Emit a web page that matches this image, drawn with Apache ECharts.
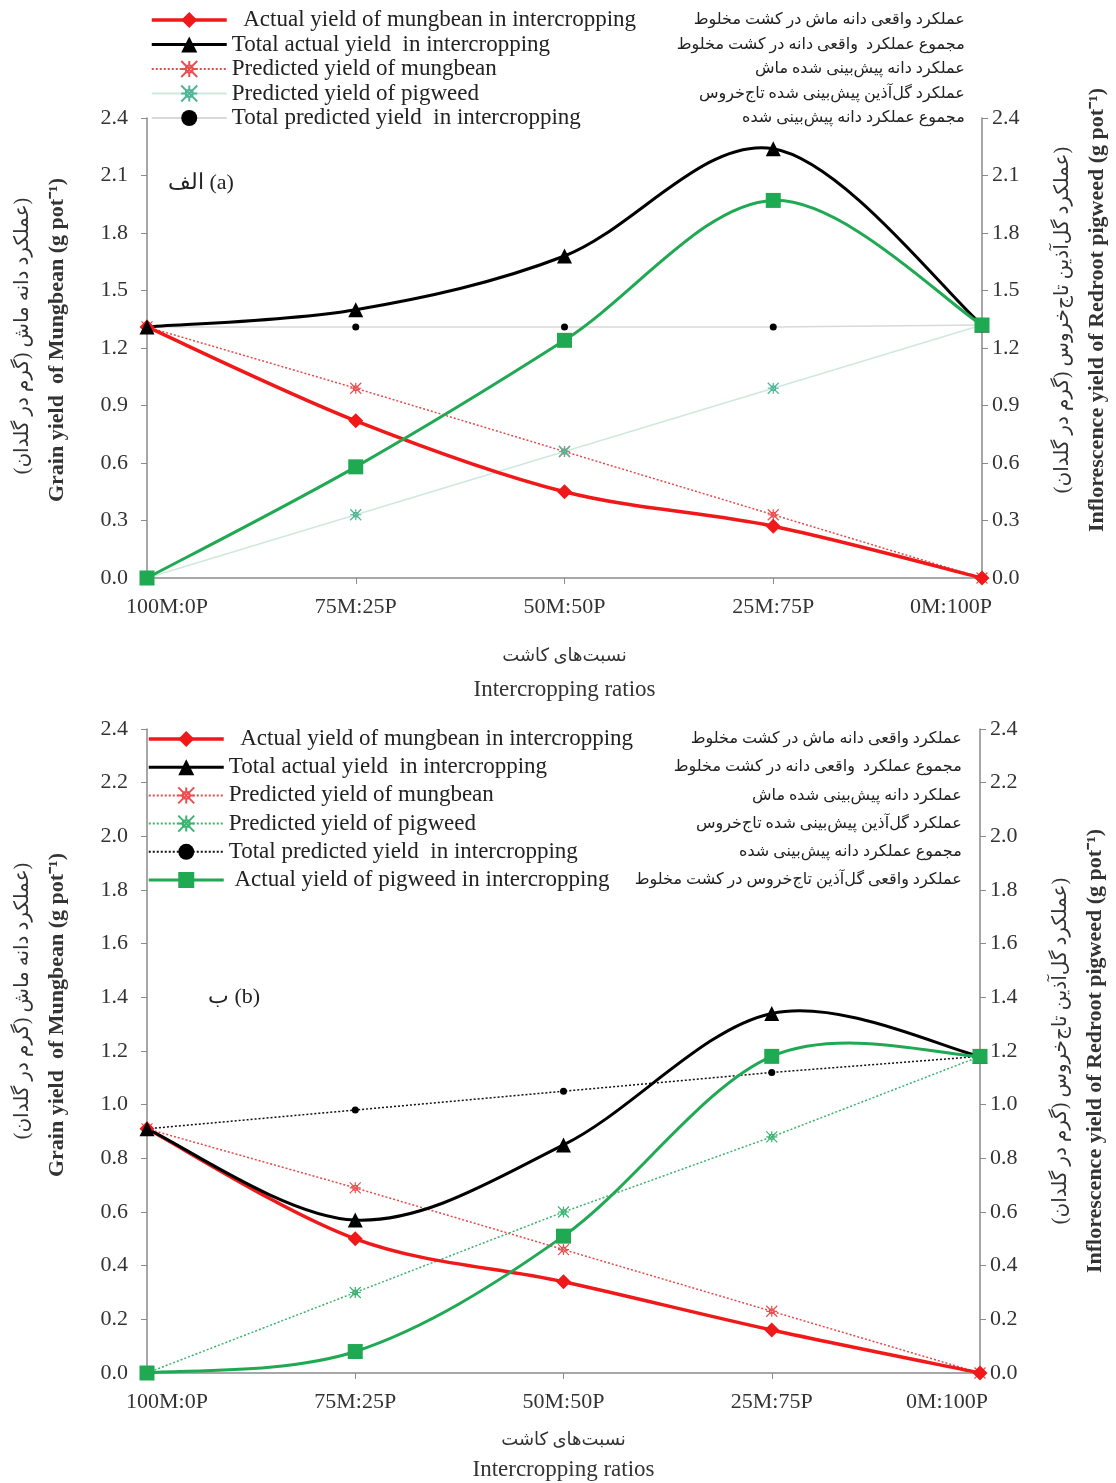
<!DOCTYPE html>
<html><head><meta charset="utf-8">
<script src="https://cdn.jsdelivr.net/npm/echarts@6/dist/echarts.min.js"></script>
<style>html,body{margin:0;padding:0;background:#fff}#c{width:1116px;height:1483px}</style>
</head><body><div id="c"></div>
<script>
// ---------- data ----------
const categories = ['100M:0P', '75M:25P', '50M:50P', '25M:75P', '0M:100P'];

// panel (a)
const topActualMung  = [1.31, 0.82, 0.45, 0.27, 0.00];
const topTotalActual = [1.31, 1.40, 1.68, 2.24, 1.32];
const topPredMung    = [1.31, 0.99, 0.66, 0.33, 0.00];
const topPredPig     = [0.00, 0.33, 0.66, 0.99, 1.32];
const topTotalPred   = [1.31, 1.31, 1.31, 1.31, 1.32];
const topActualPig   = [0.00, 0.58, 1.24, 1.97, 1.32];

// panel (b)
const botActualMung  = [0.91, 0.50, 0.34, 0.16, 0.00];
const botTotalActual = [0.91, 0.57, 0.85, 1.34, 1.18];
const botPredMung    = [0.91, 0.69, 0.46, 0.23, 0.00];
const botPredPig     = [0.00, 0.30, 0.60, 0.88, 1.18];
const botTotalPred   = [0.91, 0.98, 1.05, 1.12, 1.18];
const botActualPig   = [0.00, 0.08, 0.51, 1.18, 1.18];

// axis ticks
const yMin = 0, yMax = 2.4;
const topTickStep = 0.3;
const botTickStep = 0.2;

// texts
const legendEn = [
  '  Actual yield of mungbean in intercropping',
  'Total actual yield  in intercropping',
  'Predicted yield of mungbean',
  'Predicted yield of pigweed',
  'Total predicted yield  in intercropping',
  ' Actual yield of pigweed in intercropping'
];
const legendFa = [
  'عملکرد واقعی دانه ماش در کشت مخلوط',
  'مجموع عملکرد  واقعی دانه در کشت مخلوط',
  'عملکرد دانه پیش‌بینی شده ماش',
  'عملکرد گل‌آذین پیش‌بینی شده تاج‌خروس',
  'مجموع عملکرد دانه پیش‌بینی شده',
  'عملکرد واقعی گل‌آذین تاج‌خروس در کشت مخلوط'
];
const xNameFa = 'نسبت‌های کاشت';
const xNameEn = 'Intercropping ratios';
const yLeftFa = '\u200F(عملکرد دانه ماش (گرم در گلدان\u200F)';
const yLeftEn = 'Grain yield  of Mungbean (g pot⁻¹)';
const yRightFa = '\u200F(عملکرد گل‌آذین تاج‌خروس (گرم در گلدان\u200F)';
const yRightEn = 'Inflorescence yield of Redroot pigweed (g pot⁻¹)';
const panelA = 'الف (a)';
const panelB = 'ب (b)';

// ---------- styles ----------
const SERIF = "'Liberation Serif', 'Times New Roman', serif";
const FA = "'Liberation Serif', 'DejaVu Sans', serif";
const RED = '#f01818', BLACK = '#000', GREEN = '#1fa952';
const AXC = '#8a8a8a';
const starPath = 'path://M0,0 L10,10 M10,0 L0,10 M3,3 L7,3 L7,7 L3,7 Z M5,0 L5,3 M5,7 L5,10 M0,5 L3,5 M7,5 L10,5';

function yax(gridIndex, step, pos, shiftFa, shiftEn) {
  const left = pos === 'left';
  return {
    type: 'value', gridIndex: gridIndex, position: pos,
    min: yMin, max: yMax, interval: step,
    axisLine: {show: true, lineStyle: {color: AXC, width: 1.5}},
    axisTick: {show: true, inside: false, length: 6, lineStyle: {color: AXC}},
    splitLine: {show: false},
    axisLabel: {fontFamily: SERIF, fontSize: 22, color: '#333', margin: left ? 19 : 10,
      formatter: v => v.toFixed(1)},
    nameLocation: 'middle', nameRotate: 90,
    nameGap: left ? 73 : 64,
    name: left
      ? '{fa|' + yLeftFa + '}\n{en|' + yLeftEn + '}'
      : '{fa|' + yRightFa + '}\n{en|' + yRightEn + '}',
    nameTextStyle: {
      rich: {
        fa: {fontFamily: FA, fontSize: 20, color: '#333', lineHeight: 34, padding: [0, 0, 0, shiftFa]},
        en: {fontFamily: SERIF, fontSize: 22, fontWeight: 'bold', color: '#333', lineHeight: 34, padding: [0, 0, 0, shiftEn]}
      }
    }
  };
}
function xax(gridIndex, nameGap, nameLH, lastPad) {
  return {
    type: 'category', gridIndex: gridIndex, data: categories, boundaryGap: false,
    axisLine: {show: true, lineStyle: {color: AXC, width: 1.5}},
    axisTick: {show: true, inside: false, length: 6, alignWithLabel: true, lineStyle: {color: AXC}},
    axisLabel: {fontFamily: SERIF, fontSize: 22, color: '#333', margin: 18,
      formatter: (v, i) => i === 0 ? '{first|' + v + '}' : (i === categories.length - 1 ? '{last|' + v + '}' : v),
      rich: {
        first: {fontFamily: SERIF, fontSize: 22, color: '#333', padding: [0, 0, 0, 40]},
        last: {fontFamily: SERIF, fontSize: 22, color: '#333', padding: [0, lastPad, 0, 0]}
      }
    },
    splitLine: {show: false},
    nameLocation: 'middle', nameGap: nameGap,
    name: '{fa|' + xNameFa + '}\n{en|' + xNameEn + '}',
    nameTextStyle: {
      rich: {
        fa: {fontFamily: FA, fontSize: 18, color: '#333', lineHeight: nameLH},
        en: {fontFamily: SERIF, fontSize: 23, color: '#333', lineHeight: nameLH}
      }
    }
  };
}

// smooth curve (Catmull-Rom through the data points, via the axis scales)
function smoothCurve(arr, g, yIdx, color, width) {
  return {
    type: 'custom', coordinateSystem: 'cartesian2d',
    xAxisIndex: g, yAxisIndex: yIdx, z: 3, silent: true,
    data: arr.map((v, i) => [i, v]),
    encode: {x: 0, y: 1},
    renderItem: function (params, api) {
      const i = params.dataIndex, n = arr.length;
      if (i >= n - 1) return null;
      const P = k => api.coord([Math.max(0, Math.min(n - 1, k)), arr[Math.max(0, Math.min(n - 1, k))]]);
      const p0 = P(i - 1), p1 = P(i), p2 = P(i + 1), p3 = P(i + 2);
      return {
        type: 'bezierCurve',
        shape: {
          x1: p1[0], y1: p1[1], x2: p2[0], y2: p2[1],
          cpx1: p1[0] + (p2[0] - p0[0]) / 6, cpy1: p1[1] + (p2[1] - p0[1]) / 6,
          cpx2: p2[0] - (p3[0] - p1[0]) / 6, cpy2: p2[1] - (p3[1] - p1[1]) / 6
        },
        style: {stroke: color, lineWidth: width, fill: null, lineCap: 'round'}
      };
    }
  };
}

function mkSeries(prefix, g, arrs, topPanel) {
  const yl = g * 2, yr = g * 2 + 1;
  const s = [];
  s.push({name: prefix + '0', type: 'line', xAxisIndex: g, yAxisIndex: yl, data: arrs[0],
    symbol: 'diamond', symbolSize: 15,
    lineStyle: {color: RED, width: 3.5, opacity: 0}, itemStyle: {color: RED}, z: 6});
  s.push(smoothCurve(arrs[0], g, yl, RED, 3.5));
  s.push({name: prefix + '1', type: 'line', xAxisIndex: g, yAxisIndex: yl, data: arrs[1],
    symbol: 'triangle', symbolSize: 15,
    lineStyle: {color: BLACK, width: 3, opacity: 0}, itemStyle: {color: BLACK}, z: 6});
  s.push(smoothCurve(arrs[1], g, yl, BLACK, 3));
  s.push({name: prefix + '2', type: 'line', xAxisIndex: g, yAxisIndex: yl, data: arrs[2],
    symbol: starPath, symbolSize: 11,
    lineStyle: {color: '#e84848', width: 1.5, type: [2, 2]},
    itemStyle: {color: 'rgba(0,0,0,0)', borderColor: '#e85050', borderWidth: 1.2}, z: 2});
  s.push({name: prefix + '3', type: 'line', xAxisIndex: g, yAxisIndex: yr, data: arrs[3],
    symbol: starPath, symbolSize: 11,
    lineStyle: topPanel ? {color: '#cfe9dc', width: 1.5} : {color: '#3cb371', width: 1.5, type: [2, 2]},
    itemStyle: {color: 'rgba(0,0,0,0)', borderColor: topPanel ? '#4fb596' : '#3cb371', borderWidth: 1.2}, z: 2});
  s.push({name: prefix + '4', type: 'line', xAxisIndex: g, yAxisIndex: yl, data: arrs[4],
    symbol: 'circle', symbolSize: 7,
    lineStyle: topPanel ? {color: '#d9d9d9', width: 1.5} : {color: '#111', width: 1.5, type: [2, 2]},
    itemStyle: {color: BLACK}, z: 2});
  s.push({name: prefix + '5', type: 'line', xAxisIndex: g, yAxisIndex: yr, data: arrs[5],
    symbol: 'rect', symbolSize: 15,
    lineStyle: {color: GREEN, width: 3, opacity: 0}, itemStyle: {color: GREEN}, z: 6});
  s.push(smoothCurve(arrs[5], g, yr, GREEN, 3));
  return s;
}

function legendFmt(name) {
  const i = parseInt(name.slice(1), 10);
  return '{en|' + legendEn[i] + '}{fa|' + legendFa[i] + '}';
}
const legendLine = {
  '0': {color: RED, width: 3.5, opacity: 1},
  '1': {color: BLACK, width: 3, opacity: 1},
  '5': {color: GREEN, width: 3, opacity: 1}
};
function legend(left, top, prefix, count, gap) {
  const data = [];
  for (let i = 0; i < count; i++) {
    const d = {name: prefix + i};
    if (legendLine[i]) d.lineStyle = legendLine[i];
    data.push(d);
  }
  return {
    orient: 'vertical', left: left, top: top, data: data,
    itemWidth: 75, itemHeight: 20, itemGap: gap, selectedMode: false,
    formatter: legendFmt,
    textStyle: {
      lineHeight: 24,
      rich: {
        en: {fontFamily: SERIF, fontSize: 23, color: '#222', width: 440, lineHeight: 24, height: 24},
        fa: {fontFamily: FA, fontSize: 16, color: '#222', width: 293, align: 'right', lineHeight: 24, height: 24}
      }
    }
  };
}

const chart = echarts.init(document.getElementById('c'), null, {renderer: 'canvas'});
chart.setOption({
  animation: false,
  backgroundColor: '#fff',
  grid: [
    {left: 147, right: 129, top: 118, height: 460},
    {left: 147, right: 136, top: 729, height: 644}
  ],
  xAxis: [xax(0, 62, 33, 62), xax(1, 52, 30, 66)],
  yAxis: [yax(0, topTickStep, 'left', 24, 16), yax(0, topTickStep, 'right', 56, 76),
          yax(1, botTickStep, 'left', 100, 72), yax(1, botTickStep, 'right', 0, 0)],
  legend: [
    legend(145, 3, 'a', 5, 0.5),
    legend(142, 722, 'b', 6, 4.2)
  ],
  graphic: [
    {type: 'text', left: 168, top: 172, style: {text: panelA, font: '22px ' + SERIF, fill: '#222'}},
    {type: 'text', left: 208, top: 986, style: {text: panelB, font: '22px ' + SERIF, fill: '#222'}}
  ],
  series: [].concat(
    mkSeries('a', 0, [topActualMung, topTotalActual, topPredMung, topPredPig, topTotalPred, topActualPig], true),
    mkSeries('b', 1, [botActualMung, botTotalActual, botPredMung, botPredPig, botTotalPred, botActualPig], false)
  )
});
</script>
</body></html>
